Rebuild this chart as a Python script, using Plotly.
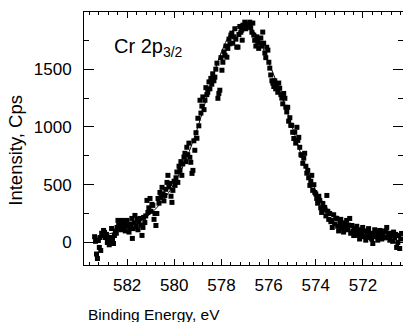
import plotly.graph_objects as go

# Measured data points (binding energy, eV ; intensity, cps)
energy = [
    583.38, 583.34, 583.30, 583.26, 583.22, 583.18, 583.15, 583.12, 583.08, 583.04,
    583.00, 582.96, 582.92, 582.88, 582.84, 582.80, 582.76, 582.73, 582.70, 582.66,
    582.62, 582.58, 582.54, 582.50, 582.46, 582.43, 582.39, 582.36, 582.32, 582.28,
    582.24, 582.20, 582.16, 582.12, 582.08, 582.04, 582.01, 581.97, 581.92, 581.88,
    581.84, 581.80, 581.78, 581.74, 581.70, 581.67, 581.62, 581.58, 581.54, 581.50,
    581.46, 581.42, 581.37, 581.33, 581.30, 581.25, 581.21, 581.16, 581.12, 581.08,
    581.03, 580.99, 580.95, 580.91, 580.86, 580.82, 580.78, 580.74, 580.69, 580.65,
    580.61, 580.56, 580.52, 580.48, 580.44, 580.40, 580.36, 580.31, 580.27, 580.23,
    580.19, 580.14, 580.10, 580.06, 580.01, 579.97, 579.93, 579.89, 579.85, 579.80,
    579.76, 579.72, 579.68, 579.64, 579.59, 579.55, 579.51, 579.47, 579.43, 579.38,
    579.34, 579.30, 579.25, 579.21, 579.17, 579.13, 579.08, 579.04, 579.00, 578.96,
    578.91, 578.87, 578.83, 578.79, 578.74, 578.70, 578.66, 578.62, 578.58, 578.53,
    578.49, 578.45, 578.41, 578.37, 578.32, 578.28, 578.24, 578.19, 578.15, 578.11,
    578.07, 578.02, 577.98, 577.94, 577.89, 577.85, 577.81, 577.77, 577.73, 577.68,
    577.64, 577.60, 577.56, 577.52, 577.48, 577.43, 577.39, 577.35, 577.30, 577.26,
    577.22, 577.18, 577.14, 577.12, 577.09, 577.05, 577.01, 576.97, 576.92, 576.88,
    576.84, 576.80, 576.76, 576.71, 576.67, 576.63, 576.59, 576.54, 576.50, 576.46,
    576.42, 576.37, 576.33, 576.29, 576.25, 576.21, 576.16, 576.12, 576.08, 576.03,
    575.99, 575.95, 575.91, 575.86, 575.82, 575.78, 575.74, 575.70, 575.65, 575.61,
    575.57, 575.53, 575.48, 575.44, 575.40, 575.36, 575.31, 575.27, 575.23, 575.19,
    575.15, 575.10, 575.06, 575.02, 574.98, 574.93, 574.89, 574.85, 574.80, 574.76,
    574.72, 574.68, 574.63, 574.59, 574.55, 574.51, 574.47, 574.42, 574.38, 574.34,
    574.30, 574.25, 574.21, 574.17, 574.13, 574.08, 574.04, 574.00, 573.96, 573.92,
    573.87, 573.83, 573.79, 573.75, 573.70, 573.66, 573.62, 573.57, 573.53, 573.49,
    573.45, 573.41, 573.36, 573.32, 573.30, 573.24, 573.20, 573.15, 573.11, 573.07,
    573.03, 572.98, 572.94, 572.90, 572.86, 572.82, 572.78, 572.73, 572.69, 572.65,
    572.61, 572.56, 572.52, 572.47, 572.43, 572.39, 572.35, 572.30, 572.26, 572.22,
    572.18, 572.14, 572.09, 572.05, 572.01, 571.97, 571.93, 571.88, 571.84, 571.80,
    571.76, 571.71, 571.67, 571.63, 571.58, 571.54, 571.50, 571.46, 571.42, 571.37,
    571.33, 571.29, 571.25, 571.20, 571.16, 571.12, 571.08, 571.03, 570.99, 570.95,
    570.91, 570.86, 570.82, 570.78, 570.74, 570.70, 570.65, 570.61, 570.57, 570.52,
    570.48, 570.44, 570.40, 570.36,
]
intensity = [
    50, 10, -100, -139, 17, -43, 43, -69, 80, 61,
    104, 87, 43, 70, 0, 30, -20, 43, 10, 121,
    17, -9, 60, 100, 80, 130, 191, 150, 120, 170,
    110, 191, 130, 160, 100, 140, 191, 150, 90, 121,
    160, 208, 35, 120, 170, 234, 140, 200, 110, 180,
    208, 150, 61, 130, 217, 173, 230, 364, 260, 300,
    381, 270, 330, 321, 200, 251, 147, 251, 381, 340,
    433, 390, 477, 420, 360, 407, 460, 520, 581, 480,
    511, 400, 347, 451, 530, 494, 560, 610, 520, 660,
    624, 700, 581, 680, 740, 772, 700, 824, 760, 860,
    737, 694, 598, 624, 880, 798, 950, 902, 1075, 1010,
    1231, 1120, 1180, 1260, 1150, 1231, 1340, 1280, 1300, 1390,
    1330, 1420, 1370, 1460, 1400, 1431, 1500, 1552, 1248, 1290,
    1318, 1600, 1491, 1560, 1650, 1620, 1700, 1604, 1680, 1760,
    1720, 1795, 1812, 1725, 1780, 1850, 1760, 1691, 1691, 1800,
    1870, 1820, 1838, 1751, 1881, 1860, 1907, 1850, 1890, 1881,
    1870, 1907, 1860, 1820, 1899, 1795, 1750, 1700, 1780, 1740,
    1680, 1725, 1770, 1700, 1821, 1725, 1640, 1600, 1690, 1665,
    1560, 1509, 1450, 1400, 1379, 1350, 1400, 1330, 1360, 1300,
    1380, 1335, 1280, 1250, 1200, 1290, 1248, 1170, 1130, 1170,
    1050, 1080, 1014, 1014, 954, 900, 954, 860, 997, 884,
    910, 824, 760, 754, 685, 730, 772, 660, 600, 624,
    560, 494, 530, 581, 451, 500, 433, 420, 381, 340,
    400, 364, 300, 260, 338, 280, 303, 230, 407, 270,
    200, 251, 180, 191, 130, 240, 160, 210, 208, 140,
    100, 165, 200, 121, 150, 90, 170, 130, 191, 110,
    150, 208, 80, 147, 100, 60, 121, 90, 140, 61,
    100, 30, 110, 70, 130, 50, 100, 20, 87, 60,
    120, 43, 80, 30, -9, 70, 110, 50, 87, 20,
    60, 104, 80, 30, 61, 100, 40, 90, 130, 43,
    80, 20, 60, 78, 10, 90, 43, 70, -43, 0,
    60, -52, 30, 78,
]

# Fitted peak curve
fit_energy = [583.4, 583.0, 582.5, 582.0, 581.5, 581.0, 580.5, 580.0, 579.5, 579.0,
              578.5, 578.0, 577.5, 577.0, 576.5, 576.0, 575.5, 575.0, 574.5, 574.0,
              573.5, 573.0, 572.5, 572.0, 571.5, 571.0, 570.4]
fit_intensity = [40, 60, 90, 130, 180, 250, 360, 510, 720, 1000,
                 1340, 1650, 1840, 1890, 1790, 1560, 1300, 1000, 690, 450,
                 295, 190, 130, 95, 72, 60, 52]

x_ticks = [582, 580, 578, 576, 574, 572]
y_ticks = [0, 500, 1000, 1500]

FONT = "Liberation Sans, Arial, sans-serif"

fig = go.Figure()
fig.add_trace(go.Scatter(
    x=fit_energy, y=fit_intensity, mode="lines",
    line=dict(color="black", width=1, shape="spline", smoothing=1.0),
    hoverinfo="skip", showlegend=False,
))
fig.add_trace(go.Scatter(
    x=energy, y=intensity, mode="markers",
    marker=dict(symbol="square", size=5, color="black", line=dict(width=0)),
    showlegend=False,
))

axis_common = dict(
    showline=True, linecolor="black", linewidth=1, mirror="ticks",
    ticks="inside", tickcolor="black", tickwidth=1,
    showgrid=False, zeroline=False,
    tickfont=dict(family=FONT, size=17, color="black"),
)

fig.update_xaxes(
    **axis_common,
    range=[583.83, 570.3],
    tickmode="array", tickvals=x_ticks, ticktext=[str(v) for v in x_ticks],
    ticklen=6, ticklabelstandoff=5,
    minor=dict(ticks="inside", ticklen=3, tickcolor="black", tick0=582, dtick=0.4, showgrid=False),
)
fig.update_yaxes(
    **axis_common,
    range=[-195, 1995],
    tickmode="array", tickvals=y_ticks, ticktext=[str(v) for v in y_ticks],
    ticklen=10, ticklabelstandoff=8,
    minor=dict(ticks="inside", ticklen=5, tickcolor="black", tick0=0, dtick=250, showgrid=False),
)

# Axis titles (placed as in the reference)
fig.add_annotation(
    xref="paper", yref="paper", x=0.221, y=-0.194,
    xanchor="center", yanchor="middle", showarrow=False,
    text="Binding Energy, eV",
    font=dict(family=FONT, size=15.5, color="black"),
)
fig.add_annotation(
    xref="paper", yref="paper", x=-0.213, y=0.452,
    xanchor="center", yanchor="middle", showarrow=False, textangle=-90,
    text="Intensity, Cps",
    font=dict(family=FONT, size=18.5, color="black"),
)

fig.add_annotation(
    xref="paper", yref="paper", x=0.088, y=0.861,
    xanchor="left", yanchor="middle", showarrow=False,
    text="Cr 2p<sub>3/2</sub>",
    font=dict(family=FONT, size=20, color="black"),
)

fig.update_layout(
    width=403, height=322,
    margin=dict(l=84, r=0, t=12, b=57),
    paper_bgcolor="white", plot_bgcolor="white",
)

fig.write_html("out.html")
